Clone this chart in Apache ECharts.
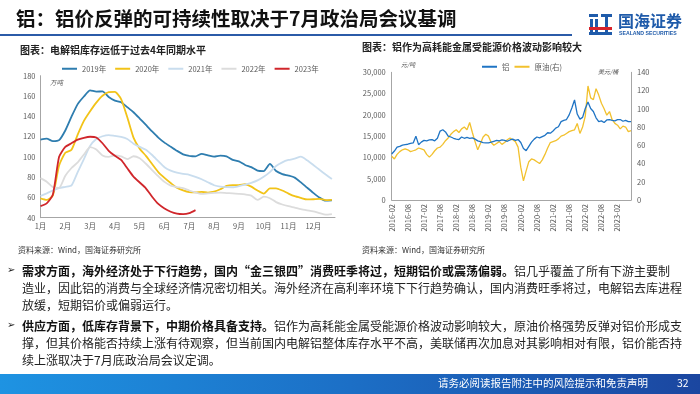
<!DOCTYPE html>
<html><head><meta charset="utf-8">
<script src="https://cdn.jsdelivr.net/npm/echarts@6/dist/echarts.min.js"></script>
<style>html,body{margin:0;padding:0;background:#fff}#c{width:700px;height:394px}</style>
</head><body><div id="c"></div>
<script>
// ---------- Left chart: electrolytic aluminium inventory (万吨), quarter-month grid ----------
const monthLabels = ['1月','2月','3月','4月','5月','6月','7月','8月','9月','10月','11月','12月'];
const stockYears = ['2019年','2020年','2021年','2022年','2023年'];
const stockStep = 0.25; // months between samples
const stock2019 = [117,118,115.5,116.5,126,139.6,152,159.5,165.5,164.3,164.5,159,155.5,153.8,149,144,137.8,131.4,125,119,114,110,106,102.5,101,100.5,103,101.5,100.2,101.2,100.5,97,95.5,92,89.8,86.5,86,93,86,83,81.5,79.5,74.8,69.6,64.5,59.8,56.8,57];
const stock2020 = [59,57.5,62,91.5,104,107,122,135.5,145,153.5,160.2,163.8,164,157,139,119,108,101,93,85,79.3,74.2,69.5,67,65.3,65,65.4,64.8,65.6,68,71.3,72.2,72.2,73,70.6,66.8,63.7,69,69,66.8,63.8,61.2,59.5,58,58.2,58.6,57.3,57.5];
const stock2021 = [61.4,64,66.8,69.2,70.4,71.8,85,97.8,110.8,117.6,120.3,121.5,120.6,119.7,117.6,113,109.8,107,101.8,95.7,89.8,86.4,84.4,83.2,82.3,80.3,77.9,74.9,72,70.6,70.1,70,71.1,72.6,74.4,76.8,80.4,85,91,94.6,96.9,98.2,100.2,96.6,92,87.2,82.6,78.1];
const stock2022 = [79,75.5,70.2,69.5,81.3,89,94.5,102.3,109.5,107.3,101.4,100,101.4,100.4,97.8,100.6,98.6,93.2,87,80.9,75.3,71.6,70.2,69.1,66.8,64.8,63.5,64,64.4,64.7,64.3,64,63.5,62.9,61.8,57.5,60.7,59.2,55.4,53,51.3,49.9,48.4,47.3,46.3,44.5,43,43.5];
const stock2023 = [51.5,54.2,62.8,100,109.8,113.4,117,118.8,119.8,119,113.4,106,101,96.9,88.7,80.5,74.7,69,60.7,53.6,49.1,45.9,44,43.5,44.5,47.5];
const stockColors = ['#2E7DAF','#F2C318','#C9DDEE','#DCDCDC','#D0262B'];

// ---------- Right chart: aluminium price (元/吨) vs crude oil (美元/桶), monthly ----------
const priceStart = [2016, 2]; // first month shown
const aluminum = [10800,11500,12400,12600,12900,13000,13100,13300,13400,15000,13000,13600,
  14000,13900,14100,14200,13900,14500,16200,16500,16000,15000,14800,14500,
  14300,14200,14800,14500,14700,14500,14600,14300,13900,13700,13500,13400,
  13400,13600,13800,14000,13900,14100,14000,13800,14100,14300,14000,14200,
  13500,12100,11600,12600,13600,14300,14800,14600,14900,15200,15800,15700,
  16200,16900,17200,18400,18700,18900,20000,21600,23500,20200,19000,19400,
  21500,23000,21500,20800,19300,18400,18600,18200,18800,18900,18700,18600,
  18900,18900,18500,18700,18400,18400];
const crudeOil = [48,45,50,53,55,56,55,53,54,55,57,56,
  55,50,47,50,54,57,58,61,65,68,72,75,
  77,74,78,80,77,85,74,64,55,62,69,72,
  70,63,60,62,64,61,63,66,68,66,64,58,
  36,21,32,42,45,44,42,40,44,50,57,63,
  64,65,67,70,71,73,75,76,77,84,73,80,
  92,125,112,110,122,115,106,100,93,97,88,84,
  82,78,81,80,75,76];
const priceMonths = aluminum.map((_, i) => {
  const t = priceStart[0] * 12 + (priceStart[1] - 1) + i;
  return Math.floor(t / 12) + '-' + String(t % 12 + 1).padStart(2, '0');
});

const FONT = '"Noto Sans CJK SC","Noto Sans",sans-serif';
const axisGray = '#A6A6A6';
const labelGray = '#595959';

const chart = echarts.init(document.getElementById('c'), null, {renderer: 'canvas'});

const leftSeries = [stock2019, stock2020, stock2021, stock2022, stock2023].map((arr, k) => ({
  name: stockYears[k], type: 'line', xAxisIndex: 0, yAxisIndex: 0,
  data: arr.map((v, i) => [i * stockStep, v]),
  showSymbol: false, symbol: 'none', smooth: 0.2,
  lineStyle: {width: 1.8, color: stockColors[k]}, itemStyle: {color: stockColors[k]},
  z: 2 + k
}));

const boldS = {fontFamily: FONT, fontSize: 12, fontWeight: 'bold', fill: '#111'};
const normS = {fontFamily: FONT, fontSize: 12, fontWeight: 'normal', fill: '#222'};
function body(x, y, parts) {
  return {type: 'text', left: x, top: y - 8, style: {
    text: parts.map(p => '{' + p[0] + '|' + p[1] + '}').join(''),
    rich: {b: boldS, n: normS}, fontFamily: FONT, fontSize: 12}};
}

const option = {
  backgroundColor: '#fff',
  animation: false,
  textStyle: {fontFamily: FONT},
  grid: [
    {left: 40.5, top: 75.7, width: 294.5, height: 142},
    {left: 391.7, top: 72.3, width: 239.3, height: 127.7}
  ],
  legend: [
    {data: stockYears, left: 57, top: 60, icon: 'rect', itemWidth: 15, itemHeight: 2, itemGap: 9,
     textStyle: {fontSize: 7.5, color: labelGray, fontFamily: FONT}},
    {data: ['铝', '原油(右)'], left: 477, top: 58, icon: 'rect', itemWidth: 15, itemHeight: 2, itemGap: 5,
     textStyle: {fontSize: 7.5, color: labelGray, fontFamily: FONT}}
  ],
  xAxis: [
    {type: 'value', gridIndex: 0, min: 0, max: 11.875, interval: 1,
     axisLine: {show: true, lineStyle: {color: axisGray}}, axisTick: {show: false}, splitLine: {show: false},
     axisLabel: {fontSize: 7.5, color: labelGray, margin: 5, hideOverlap: false,
       formatter: v => (Number.isInteger(v) && v < 12) ? monthLabels[v] : ''}},
    {type: 'category', gridIndex: 1, data: priceMonths, boundaryGap: false,
     axisLine: {lineStyle: {color: axisGray}}, axisTick: {show: false},
     axisLabel: {interval: 5, rotate: 90, fontSize: 7.5, color: labelGray, margin: 4}}
  ],
  yAxis: [
    {type: 'value', gridIndex: 0, min: 40, max: 180, interval: 20,
     axisLine: {show: true, lineStyle: {color: axisGray}}, axisTick: {show: false}, splitLine: {show: false},
     axisLabel: {fontSize: 7.5, color: labelGray, margin: 5}},
    {type: 'value', gridIndex: 1, min: 0, max: 30000, interval: 5000,
     axisLine: {show: true, lineStyle: {color: axisGray}}, axisTick: {show: false}, splitLine: {show: false},
     axisLabel: {fontSize: 7.5, color: labelGray, margin: 6, formatter: v => v.toLocaleString('en-US')}},
    {type: 'value', gridIndex: 1, position: 'right', min: 0, max: 140, interval: 20,
     axisLine: {show: true, lineStyle: {color: axisGray}}, axisTick: {show: false}, splitLine: {show: false},
     axisLabel: {fontSize: 7.5, color: labelGray, margin: 6}}
  ],
  series: leftSeries.concat([
    {name: '原油(右)', type: 'line', xAxisIndex: 1, yAxisIndex: 2, data: crudeOil,
     showSymbol: false, symbol: 'none', lineStyle: {width: 1.3, color: '#F2C12E'}, itemStyle: {color: '#F2C12E'}, z: 2},
    {name: '铝', type: 'line', xAxisIndex: 1, yAxisIndex: 1, data: aluminum,
     showSymbol: false, symbol: 'none', lineStyle: {width: 1.3, color: '#1F74C4'}, itemStyle: {color: '#1F74C4'}, z: 3}
  ]),
  graphic: [
    // title
    {type: 'text', left: 16, top: 9, style: {text: '铝：铝价反弹的可持续性取决于7月政治局会议基调',
      fontFamily: FONT, fontSize: 19.5, fontWeight: 'bold', fill: '#111'}},
    {type: 'rect', left: 0, top: 34, shape: {width: 572, height: 2}, style: {fill: '#2B5BA8'}},
    // logo
    {type: 'group', left: 589, top: 14, children: [
      {type: 'rect', shape: {x: 0, y: 0, width: 9, height: 3}, style: {fill: '#1F5BAA'}},
      {type: 'rect', shape: {x: 12, y: 0, width: 11, height: 3}, style: {fill: '#1F5BAA'}},
      {type: 'rect', shape: {x: 1, y: 5, width: 3, height: 16}, style: {fill: '#1F5BAA'}},
      {type: 'rect', shape: {x: 6, y: 5, width: 3, height: 16}, style: {fill: '#1F5BAA'}},
      {type: 'rect', shape: {x: 16, y: 3, width: 3, height: 18}, style: {fill: '#1F5BAA'}},
      {type: 'rect', shape: {x: 0, y: 13, width: 23, height: 3}, style: {fill: '#D7232B'}},
      {type: 'rect', shape: {x: 0, y: 18, width: 23, height: 3}, style: {fill: '#1F5BAA'}}
    ]},
    {type: 'text', left: 618, top: 13, style: {text: '国海证券', fontFamily: FONT, fontSize: 16, fontWeight: 'bold', fill: '#1F5BAA'}},
    {type: 'text', left: 619, top: 31, style: {text: 'SEALAND SECURITIES', fontFamily: '"Liberation Sans",sans-serif', fontSize: 5.2, fontWeight: 'bold', fill: '#1F5BAA'}},
    // chart titles
    {type: 'text', left: 20, top: 45, style: {text: '图表：电解铝库存远低于过去4年同期水平', fontFamily: FONT, fontSize: 10, fontWeight: 'bold', fill: '#222'}},
    {type: 'text', left: 362, top: 42, style: {text: '图表：铝作为高耗能金属受能源价格波动影响较大', fontFamily: FONT, fontSize: 10, fontWeight: 'bold', fill: '#222'}},
    // units
    {type: 'text', left: 50, top: 79, style: {text: '万吨', fontFamily: FONT, fontSize: 6.5, fontStyle: 'italic', fill: '#595959'}},
    {type: 'text', left: 401, top: 62, style: {text: '元/吨', fontFamily: FONT, fontSize: 6, fontStyle: 'italic', fill: '#595959'}},
    {type: 'text', left: 598, top: 69, style: {text: '美元/桶', fontFamily: FONT, fontSize: 6, fontStyle: 'italic', fill: '#595959'}},
    // sources
    {type: 'text', left: 18, top: 246, style: {text: '资料来源：Wind，国海证券研究所', fontFamily: FONT, fontSize: 8, fill: '#333'}},
    {type: 'text', left: 362, top: 246, style: {text: '资料来源：Wind，国海证券研究所', fontFamily: FONT, fontSize: 8, fill: '#333'}},
    // bullets
    {type: 'text', left: 7, top: 265, style: {text: '➢', fontFamily: '"DejaVu Sans",sans-serif', fontSize: 10, fill: '#222'}},
    body(22, 273, [['b', '需求方面，海外经济处于下行趋势，国内“金三银四”消费旺季将过，短期铝价或震荡偏弱。'], ['n', '铝几乎覆盖了所有下游主要制']]),
    body(22, 290, [['n', '造业，因此铝的消费与全球经济情况密切相关。海外经济在高利率环境下下行趋势确认，国内消费旺季将过，电解铝去库进程']]),
    body(22, 307, [['n', '放缓，短期铝价或偏弱运行。']]),
    {type: 'text', left: 7, top: 320, style: {text: '➢', fontFamily: '"DejaVu Sans",sans-serif', fontSize: 10, fill: '#222'}},
    body(22, 328, [['b', '供应方面，低库存背景下，中期价格具备支持。'], ['n', '铝作为高耗能金属受能源价格波动影响较大，原油价格强势反弹对铝价形成支']]),
    body(22, 345, [['n', '撑，但其价格能否持续上涨有待观察，但当前国内电解铝整体库存水平不高，美联储再次加息对其影响相对有限，铝价能否持']]),
    body(22, 362, [['n', '续上涨取决于7月底政治局会议定调。']]),
    // footer
    {type: 'rect', left: 0, top: 374, shape: {width: 700, height: 20},
     style: {fill: new echarts.graphic.LinearGradient(0, 0, 1, 0, [
       {offset: 0, color: '#1E93E2'}, {offset: 0.5, color: '#1C6FC6'}, {offset: 1, color: '#1B46A0'}])}},
    {type: 'text', right: 52, top: 378, style: {text: '请务必阅读报告附注中的风险提示和免责声明', fontFamily: FONT, fontSize: 10.5, fill: '#fff'}},
    {type: 'text', left: 677, top: 378, style: {text: '32', fontFamily: FONT, fontSize: 10.5, fill: '#fff'}}
  ]
};
chart.setOption(option);
</script></body></html>
